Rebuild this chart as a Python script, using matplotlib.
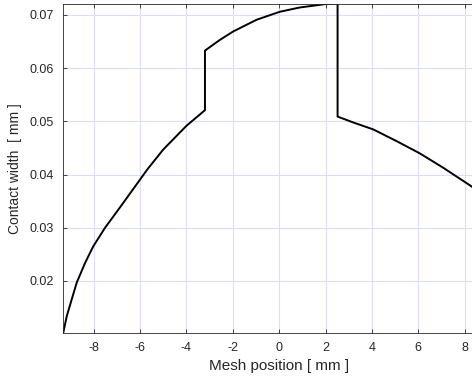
import matplotlib
matplotlib.use('Agg')
import matplotlib.pyplot as plt

plt.rcParams['font.family'] = ['Liberation Sans', 'DejaVu Sans']
plt.rcParams['axes.unicode_minus'] = False

# mesh position [mm] and contact width [mm]
mesh_pos = [-9.31, -9.16, -8.95, -8.73, -8.37, -8.02, -7.51, -6.87, -6.29, -5.68, -5.0, -3.99, -3.20,
            -3.20, -2.56, -1.98, -0.97, 0.03, 0.89, 1.75, 2.0, 2.52,
            2.52, 3.19, 4.05, 5.06, 6.06, 7.07, 8.22, 8.45]
contact_w = [0.0103, 0.0134, 0.0165, 0.0197, 0.0234, 0.0265, 0.0300, 0.0338, 0.0373, 0.0410, 0.0447, 0.0492, 0.0521,
             0.0633, 0.0653, 0.0669, 0.0691, 0.0706, 0.0714, 0.0719, 0.07205, 0.0722,
             0.0509, 0.0498, 0.0485, 0.0463, 0.0440, 0.0413, 0.0380, 0.0373]

x_ticks = [-8, -6, -4, -2, 0, 2, 4, 6, 8]
y_ticks = [0.02, 0.03, 0.04, 0.05, 0.06, 0.07]

fig = plt.figure(figsize=(4.72, 3.80), dpi=100)
ax = fig.add_axes([63.3 / 472, 1 - 332.7 / 380, (495 - 63.3) / 472, (332.7 - 4.3) / 380])

ax.plot(mesh_pos, contact_w, color='black', linewidth=1.4, solid_joinstyle='round')

ax.set_xlim(-9.31, 9.31)
ax.set_ylim(0.01028, 0.0720)
ax.set_xticks(x_ticks)
ax.set_yticks(y_ticks)
ax.set_yticklabels(['%.2f' % v for v in y_ticks])
ax.grid(True, color='#dcdcff', linewidth=0.8)
ax.set_axisbelow(True)
ax.tick_params(direction='in', top=True, right=True, length=3, width=0.6,
               labelsize=9, colors='#262626', pad=7)
for s in ax.spines.values():
    s.set_color('#262626')
    s.set_linewidth(0.6)

ax.set_xlabel('Mesh position [ mm ]', fontsize=11, color='#262626', labelpad=3)
ax.set_ylabel('Contact width  [ mm ]', fontsize=10, color='#262626', labelpad=5)

fig.savefig('out.png', dpi=100)
